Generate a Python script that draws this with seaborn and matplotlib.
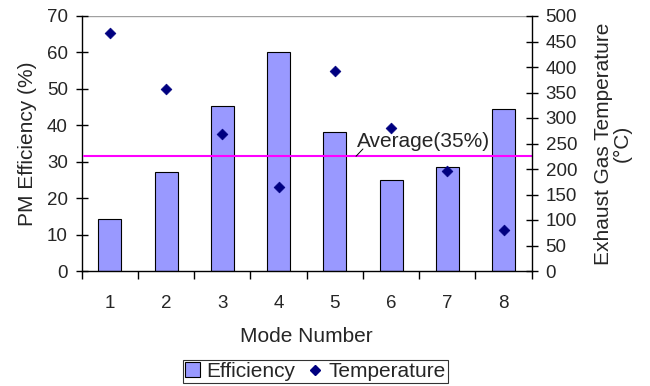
import matplotlib
matplotlib.use("Agg")
import matplotlib.pyplot as plt
import seaborn as sns
import pandas as pd
from matplotlib.patches import Patch
from matplotlib.lines import Line2D

modes = ["1", "2", "3", "4", "5", "6", "7", "8"]
efficiency = [14.2, 27.3, 45.3, 60.0, 38.2, 24.9, 28.6, 44.6]
temperature = [467, 357, 268, 164, 392, 281, 197, 80]
average_line = 31.5
average_label = "Average(35%)"

sns.set_theme(style="white")
plt.rcParams['font.family'] = ['Liberation Sans', 'DejaVu Sans']
FT = 13.5
FL = 15

df = pd.DataFrame({"Mode": modes, "Efficiency": efficiency,
                   "Temperature": temperature, "pos": range(len(modes))})

fig = plt.figure(figsize=(6.5, 3.86), dpi=100)
ax = fig.add_axes([81.7/650, 1-271/386, (531.7-81.7)/650, (271-16)/386])

sns.barplot(data=df, x="Mode", y="Efficiency", ax=ax, color="#9999FF",
            saturation=1, width=0.41, edgecolor="black", linewidth=0.8)
ax.set_xlim(-0.5, 7.5)
ax.set_ylim(0, 70)
ax.set_yticks(range(0, 71, 10))
ax.axhline(average_line, xmin=0.004, xmax=1, color="#FF00FF", lw=1.5, zorder=3)
ax.axhline(70, color="#A0A0A0", lw=1, zorder=0)

ax2 = ax.twinx()
sns.scatterplot(data=df, x="pos", y="Temperature", ax=ax2, marker="D",
                color="#000080", s=30, edgecolor="#000080", linewidth=0.5, legend=False)
ax2.set_xlim(-0.5, 7.5)
ax2.set_ylim(0, 500)
ax2.set_yticks(range(0, 501, 50))

for a in (ax, ax2):
    a.spines["top"].set_visible(False)
    for s in ("left", "right", "bottom"):
        a.spines[s].set_color("black")
        a.spines[s].set_linewidth(1)
ax.spines["right"].set_visible(False)
ax2.spines["left"].set_visible(False)
ax2.spines["bottom"].set_visible(False)

ax.set_xticks(range(8))
ax.set_xticklabels(modes)
ax.set_xticks([i - 0.5 for i in range(9)], minor=True)
ax.tick_params(axis="x", which="major", length=0, labelsize=FT, pad=17)
ax.tick_params(axis="x", which="minor", length=6, width=1, direction="out", color="black", bottom=True)
ax.tick_params(axis="y", which="major", length=8, width=1, direction="inout", color="black",
               labelsize=FT, pad=6, left=True)
ax2.tick_params(axis="y", which="major", length=8, width=1, direction="inout", color="black",
                labelsize=FT, pad=6, right=True)

ax.set_xlabel("Mode Number", fontsize=FL, labelpad=11)
ax.set_ylabel("PM Efficiency (%)", fontsize=FL, labelpad=7)
ax2.set_ylabel("Exhaust Gas Temperature\n(°C)", fontsize=FL, labelpad=12, linespacing=1.0)

ax.annotate("", xy=(4.377, average_line), xytext=(4.50, 33.5),
            arrowprops=dict(arrowstyle="-", color="black", lw=0.7,
                            shrinkA=0, shrinkB=0))
ax.text(4.39, 34.0, average_label, fontsize=FL, ha="left", va="baseline")

handles = [Patch(facecolor="#9999FF", edgecolor="black", linewidth=0.8),
           Line2D([], [], marker="D", color="#000080", linestyle="none", markersize=5)]
leg = fig.legend(handles, ["Efficiency", "Temperature"], loc="lower center",
                 bbox_to_anchor=(0.485, 0.008), ncol=2, fontsize=FL, frameon=True,
                 fancybox=False, handlelength=0.7, handletextpad=0.3, columnspacing=0.6,
                 borderpad=0.1, borderaxespad=0)
leg.get_frame().set_edgecolor("black")
leg.get_frame().set_linewidth(0.8)

fig.savefig("out.png", dpi=100)
